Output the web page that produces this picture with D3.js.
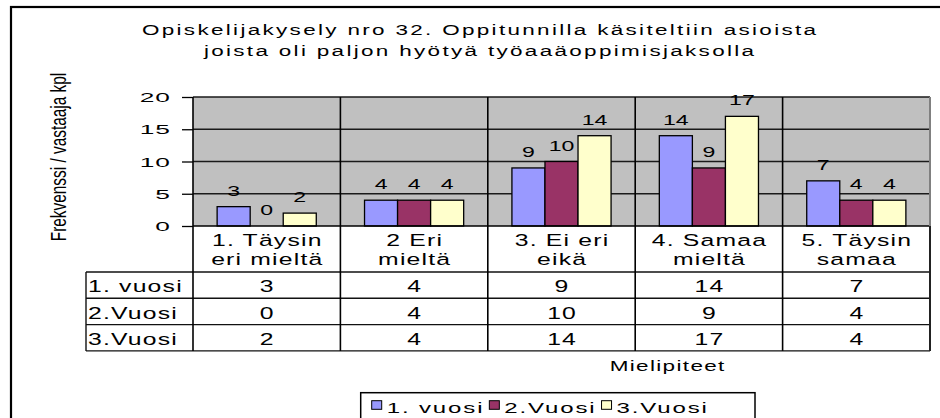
<!DOCTYPE html>
<html>
<head>
<meta charset="utf-8">
<script src="https://cdn.jsdelivr.net/npm/d3@7"></script>
<style>
  html, body { margin: 0; padding: 0; background: #fff; }
  svg { display: block; font-family: Arial, "Liberation Sans", sans-serif; }
</style>
</head>
<body>
<svg id="chart" width="940" height="418"></svg>
<script>
// ---- data ----
const titleLines = [
  "Opiskelijakysely nro 32. Oppitunnilla käsiteltiin asioista",
  "joista oli paljon hyötyä työaaäoppimisjaksolla"
];
const categories = [
  ["1. Täysin", "eri mieltä"],
  ["2 Eri", "mieltä"],
  ["3. Ei eri", "eikä"],
  ["4. Samaa", "mieltä"],
  ["5. Täysin", "samaa"]
];
const seriesNames = ["1. vuosi", "2.Vuosi", "3.Vuosi"];
const vuosi1 = [3, 4, 9, 14, 7];
const vuosi2 = [0, 4, 10, 9, 4];
const vuosi3 = [2, 4, 14, 17, 4];
const seriesColors = ["#9999ff", "#993366", "#ffffcc"];
const yTicks = [0, 5, 10, 15, 20];
const yTitle = "Frekvenssi / vastaaja kpl";
const xTitle = "Mielipiteet";

const seriesValues = [vuosi1, vuosi2, vuosi3];
const catKeys = categories.map(c => c.join(" "));

// ---- layout ----
const svg = d3.select("#chart");
const plot = { left: 193, right: 930, top: 97, bottom: 226 };
const table = { left: 86, headerBottom: 272, rowH: 26.3 };
const tableBottom = table.headerBottom + table.rowH * seriesNames.length;

const x = d3.scaleBand().domain(catKeys).range([plot.left, plot.right]).paddingInner(0).paddingOuter(0);
const xs = d3.scaleBand().domain(seriesNames).range([0, x.bandwidth()]).paddingInner(0).paddingOuter(0.73);
const y = d3.scaleLinear().domain([0, 20]).range([plot.bottom, plot.top]);

// text drawn with a horizontal stretch, like the old spreadsheet rendering
function stext(parent, px, py, str, o) {
  const k = o.k || 1, ls = o.ls || 0, anchor = o.anchor || "middle";
  let shift = 0;
  if (anchor === "middle") shift = ls * k / 2;
  if (anchor === "end") shift = ls * k;
  return parent.append("text")
    .attr("transform", `translate(${px + shift},${py}) scale(${k},1)`)
    .attr("font-size", o.fs)
    .attr("letter-spacing", ls)
    .attr("text-anchor", anchor)
    .attr("fill", "#000")
    .text(str);
}

// outer chart frame
svg.append("rect")
  .attr("x", 11).attr("y", 7).attr("width", 940).attr("height", 420)
  .attr("fill", "#fff").attr("stroke", "#000").attr("stroke-width", 2.2);

// title
titleLines.forEach((t, i) => stext(svg, 479, 35 + i * 21, t, { fs: 15.5, k: 1.45, ls: 1.6 }));

// plot background
svg.append("rect")
  .attr("x", plot.left).attr("y", plot.top)
  .attr("width", plot.right - plot.left).attr("height", plot.bottom - plot.top)
  .attr("fill", "#c0c0c0");

// horizontal gridlines
svg.append("g").selectAll("line")
  .data(yTicks.filter(v => v > 0))
  .join("line")
  .attr("x1", plot.left).attr("x2", plot.right)
  .attr("y1", d => y(d)).attr("y2", d => y(d))
  .attr("stroke", "#1a1a1a").attr("stroke-width", 1.3);

// bars
const bars = svg.append("g");
seriesNames.forEach((s, si) => {
  bars.selectAll(null)
    .data(seriesValues[si].map((v, i) => ({ cat: catKeys[i], v })))
    .join("rect")
    .attr("x", d => x(d.cat) + xs(s))
    .attr("y", d => y(d.v))
    .attr("width", xs.bandwidth())
    .attr("height", d => y(0) - y(d.v))
    .attr("fill", seriesColors[si])
    .attr("stroke", "#000").attr("stroke-width", 1.3);
});

// value labels above bars
const labels = svg.append("g");
seriesNames.forEach((s, si) => {
  seriesValues[si].forEach((v, i) => {
    stext(labels, x(catKeys[i]) + xs(s) + xs.bandwidth() / 2, y(v) - 11, v, { fs: 14, k: 1.65 });
  });
});

// y axis ticks and labels
const yAxis = svg.append("g")
  .attr("transform", `translate(${plot.left},0)`)
  .call(d3.axisLeft(y).tickValues(yTicks).tickSize(11).tickFormat(""));
yAxis.select(".domain").remove();
yAxis.selectAll(".tick line").attr("stroke", "#000").attr("stroke-width", 1.3);
yTicks.forEach(v => stext(svg, 170, y(v) + 5, v, { fs: 13.5, k: 1.95, ls: 0.5, anchor: "end" }));

// y axis title
svg.append("text")
  .attr("transform", "translate(66,157) rotate(-90) scale(0.7,1)")
  .attr("font-size", 22)
  .attr("text-anchor", "middle")
  .attr("fill", "#000")
  .text(yTitle);

// data table grid
const grid = svg.append("g").attr("stroke", "#111").attr("stroke-width", 1.4);
// baseline / table top
grid.append("line").attr("x1", plot.left).attr("x2", plot.right)
  .attr("y1", y(0)).attr("y2", y(0)).attr("stroke", "#000").attr("stroke-width", 1.6);
d3.range(seriesNames.length + 1).forEach(r => {
  const yy = table.headerBottom + r * table.rowH;
  grid.append("line").attr("x1", table.left).attr("x2", plot.right).attr("y1", yy).attr("y2", yy);
});
grid.append("line").attr("x1", table.left).attr("x2", table.left)
  .attr("y1", table.headerBottom).attr("y2", tableBottom);
// category separators through plot and table
catKeys.forEach(c => {
  grid.append("line").attr("x1", x(c)).attr("x2", x(c))
    .attr("y1", plot.top).attr("y2", tableBottom)
    .attr("stroke", "#000").attr("stroke-width", 1.6);
});
grid.append("line").attr("x1", plot.right).attr("x2", plot.right)
  .attr("y1", plot.top).attr("y2", plot.bottom).attr("stroke", "#808080").attr("stroke-width", 2);
grid.append("line").attr("x1", plot.right).attr("x2", plot.right)
  .attr("y1", plot.bottom).attr("y2", tableBottom).attr("stroke", "#222").attr("stroke-width", 2);

// category headers
const tableText = { fs: 16.5, k: 1.5, ls: 0.8 };
categories.forEach((lines, i) => {
  const cx = x(catKeys[i]) + x.bandwidth() / 2;
  lines.forEach((t, li) => stext(svg, cx, 246 + li * 19, t, tableText));
});

// table rows
seriesNames.forEach((s, si) => {
  const base = table.headerBottom + (si + 1) * table.rowH - 6;
  stext(svg, 88, base, s, Object.assign({}, tableText, { anchor: "start" }));
  seriesValues[si].forEach((v, i) => {
    stext(svg, x(catKeys[i]) + x.bandwidth() / 2, base, v, tableText);
  });
});

// x axis title
stext(svg, 667, 370.7, xTitle, { fs: 15, k: 1.5, ls: 0.9 });

// legend
const legend = svg.append("g");
legend.append("rect")
  .attr("x", 360.7).attr("y", 392.7).attr("width", 394.3).attr("height", 40)
  .attr("fill", "#fff").attr("stroke", "#000").attr("stroke-width", 1.5);
let cursor = 371.7;
const legendText = { fs: 15.5, k: 1.55, ls: 1.2, anchor: "start" };
seriesNames.forEach((s, si) => {
  legend.append("rect")
    .attr("x", cursor).attr("y", 400.7).attr("width", 10).attr("height", 8.6)
    .attr("fill", seriesColors[si]).attr("stroke", "#000").attr("stroke-width", 1);
  const t = stext(legend, cursor + 15, 412.7, s, legendText);
  const w = t.node().getBBox().width * legendText.k;
  cursor += 15 + w + 5;
});
</script>
</body>
</html>
